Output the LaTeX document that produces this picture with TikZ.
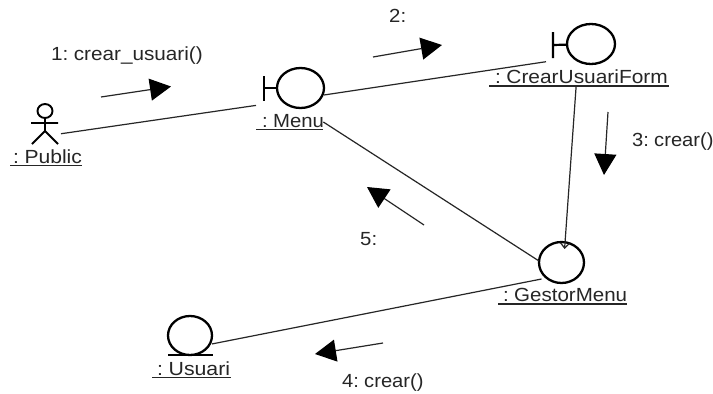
\documentclass[tikz,border=0pt]{standalone}
\usepackage{fontspec}
\setmainfont[WordSpace=0.6]{Liberation Sans}
\usetikzlibrary{arrows.meta,shapes.geometric}
\tikzset{
  conn/.style={draw=black!85,line width=1.2pt},
  msg/.style={draw=black!85,line width=1.2pt,-{Triangle[length=21pt,width=22pt,color=black]}},
  hit/.style={rectangle,inner sep=0pt,outer sep=0pt},
  icon/.style={ellipse,draw=black,line width=2.3pt,inner sep=0pt,outer sep=0pt},
  stroke/.style={draw=black,line width=2.2pt},
  txt/.style={anchor=base west,inner sep=0pt,text=black!85,font=\fontsize{19}{19}\selectfont,transform shape},
  uline/.style={draw=black!85,line width=1.2pt}
}
\begin{document}
\begin{tikzpicture}[x=1pt,y=-1pt]
\useasboundingbox[fill=white] (0,0) rectangle (713,394);
% invisible connection boxes
\node[hit,minimum width=30pt,minimum height=42pt] (pub) at (46,124) {};
\node[hit,minimum width=68pt,minimum height=54pt] (menu) at (290,95) {};
\node[hit,minimum width=69pt,minimum height=62pt] (form) at (580.5,55) {};
\node[hit,minimum width=45pt,minimum height=36pt] (gestor) at (561.5,261) {};
\node[hit,minimum width=44pt,minimum height=39pt] (usuari) at (190,335.5) {};
% actor
\node[icon,line width=1.9pt,minimum width=15pt,minimum height=14pt] (head) at (45,111) {};
\coordinate (hip) at (45,131);
\coordinate (armL) at (31,123);
\coordinate (armR) at (58,123);
\coordinate (legL) at (32,144);
\coordinate (legR) at (58,144);
\draw[stroke,line width=1.9pt] (head) -- (hip) (armL) -- (armR) (legL) -- (hip) -- (legR);
% boundary Menu
\node[icon,minimum width=47pt,minimum height=40pt] (menuC) at (300.5,88) {};
\coordinate (menuBT) at (264,76);
\coordinate (menuBB) at (264,101);
\coordinate (menuBM) at (264,88);
\draw[stroke] (menuBT) -- (menuBB) (menuBM) -- (menuC);
% boundary Form
\node[icon,minimum width=48pt,minimum height=40pt] (formC) at (591,44) {};
\coordinate (formBT) at (553,32);
\coordinate (formBB) at (553,58);
\coordinate (formBM) at (553,45);
\draw[stroke] (formBT) -- (formBB) (formBM) -- (formC);
% control
\node[icon,minimum width=45pt,minimum height=41pt] (gestorC) at (561.5,262.5) {};
% entity
\node[icon,minimum width=44pt,minimum height=39pt] (usuariC) at (190,335.5) {};
\coordinate (usL) at (168,355);
\coordinate (usR) at (213,355);
\draw[stroke] (usL) -- (usR);
% connectors
\draw[conn] (pub.-33.7) -- (menu.197.9);
\draw[conn] (menu.east) -- (form.191.5);
\draw[conn] (menu.-39.3) -- (gestor.west);
\draw[conn,shorten >=-6pt,-{Straight Barb[length=5pt,width=9pt]}] (form.-98.26) -- (gestor.79);
\draw[conn] (gestor.222.7) -- (usuari.-21.1);
% messages
\coordinate (m1a) at (101,97); \coordinate (m1b) at (171,86.5);
\coordinate (m2a) at (373,57); \coordinate (m2b) at (442,45);
\coordinate (m3a) at (608,112); \coordinate (m3b) at (604,175);
\coordinate (m4a) at (383,343); \coordinate (m4b) at (315,354);
\coordinate (m5a) at (424,225); \coordinate (m5b) at (367,187);
\draw[msg] (m1a) -- (m1b);
\draw[msg] (m2a) -- (m2b);
\draw[msg] (m3a) -- (m3b);
\draw[msg] (m4a) -- (m4b);
\draw[msg] (m5a) -- (m5b);
% labels
\node[txt,xscale=1.09] (t1) at (51,60) {1: crear\_usuari()};
\node[txt,xscale=1.07] (t2) at (389,22) {2:};
\node[txt,xscale=1.06] (t3) at (632,146) {3: crear()};
\node[txt,xscale=1.06] (t4) at (342,387) {4: crear()};
\node[txt,xscale=1.07] (t5) at (360,245) {5:};
\node[txt,xscale=1.11] (l1) at (13,163) {: Public};
\node[txt,xscale=1.07] (l2) at (262,127) {: Menu};
\node[txt,xscale=1.1] (l3) at (495,83) {: CrearUsuariForm};
\node[txt,xscale=1.08] (l4) at (503,301) {: GestorMenu};
\node[txt,xscale=1.12] (l5) at (157,375) {: Usuari};
% underlines
\coordinate (u1a) at (10,165.5); \coordinate (u1b) at (82,165.5);
\coordinate (u2a) at (256,129.5); \coordinate (u2b) at (323,129.5);
\coordinate (u3a) at (489,86); \coordinate (u3b) at (669,86);
\coordinate (u4a) at (498,304); \coordinate (u4b) at (627,304);
\coordinate (u5a) at (152,377.5); \coordinate (u5b) at (231,377.5);
\draw[uline] (u1a) -- (u1b) (u2a) -- (u2b) (u3a) -- (u3b) (u4a) -- (u4b) (u5a) -- (u5b);
\end{tikzpicture}
\end{document}
